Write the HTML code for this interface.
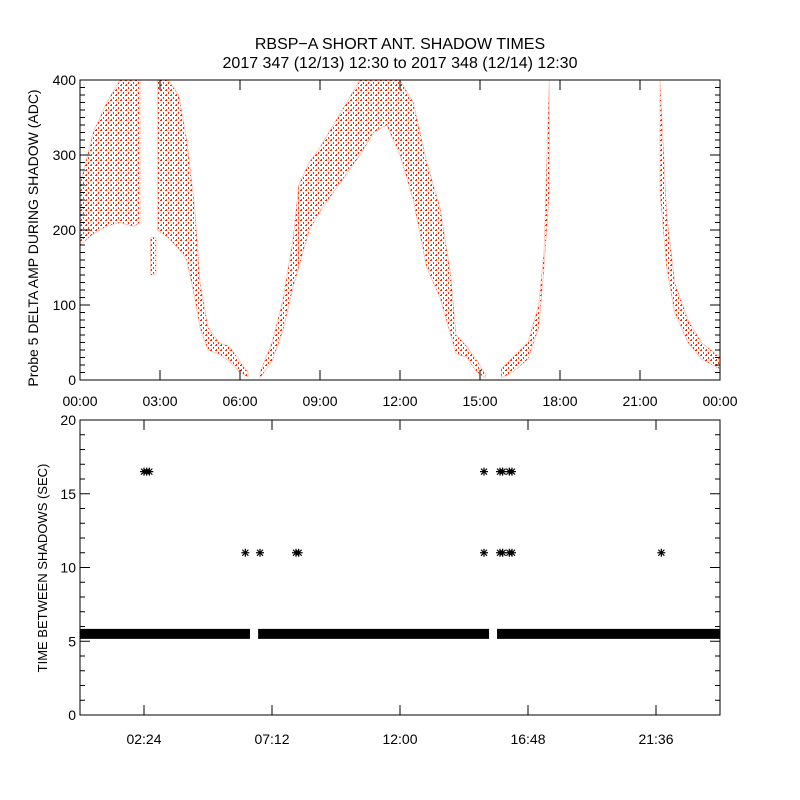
<!DOCTYPE html>
<html><head><meta charset="utf-8"><style>
html,body{margin:0;padding:0;background:#fff}
svg{display:block;font-family:"Liberation Sans",sans-serif}
</style></head><body>
<svg id="c" width="800" height="800" viewBox="0 0 800 800">
<defs>
<pattern id="dots" width="5" height="5" patternUnits="userSpaceOnUse"><rect x="0" y="0" width="2" height="1" fill="#ff2a00"/><rect x="3" y="2" width="1" height="2" fill="#ff2a00"/><rect x="1" y="4" width="1" height="1" fill="#ff2a00"/></pattern>
</defs>
<text x="400" y="49" text-anchor="middle" font-size="16">RBSP−A SHORT ANT. SHADOW TIMES</text>
<text x="400" y="68" text-anchor="middle" font-size="16">2017 347 (12/13) 12:30 to 2017 348 (12/14) 12:30</text>
<g id="topPanel"></g>
<g id="botPanel"></g>
</svg>
<script>
// Top panel data: envelope bands (hours, low ADC, high ADC)
const band1T=[0,0.5,1,1.5,2,2.25], band1Lo=[180,195,205,210,205,210], band1Hi=[260,330,370,400,400,400];
const band2T=[2.65,2.85], band2Lo=[140,140], band2Hi=[190,190];
const band3T=[2.9,3.3,3.7,4.0,4.3,4.5,4.8,5.2,5.6,6.0,6.3], band3Lo=[200,190,175,160,110,70,40,35,25,10,4], band3Hi=[400,400,380,320,230,130,70,50,45,25,10];
const band4T=[6.75,7.2,7.6,8.0,8.2], band4Lo=[3,25,65,125,150], band4Hi=[10,50,105,190,260];
const band5T=[8.2,8.6,9.0,9.5,10.0,10.5,11.0,11.5,12.0,12.5,13.0,13.5,13.9,14.1,14.5,14.9,15.2], band5Lo=[150,200,225,250,275,300,330,340,300,240,150,110,60,35,30,10,3], band5Hi=[260,290,310,340,370,400,400,400,400,370,290,230,140,60,45,25,8];
const band6T=[15.8,16.2,16.8,17.2,17.4,17.6], band6Lo=[3,10,28,70,150,250], band6Hi=[15,30,50,100,170,400];
const band7T=[21.75,22.0,22.3,22.8,23.3,24], band7Lo=[250,150,90,50,28,15], band7Hi=[400,220,130,80,50,30];
const topYTicks=[0,100,200,300,400];
const topXLabels=["00:00","03:00","06:00","09:00","12:00","15:00","18:00","21:00","00:00"];
// Bottom panel data
const baseValue=5.5;
const baseStart=[0,6.68,15.64], baseEnd=[6.375,15.34,24];
const ptT=[2.4,2.5,2.6,6.2,6.75,8.1,8.2,15.15,15.15,15.75,15.85,16.1,16.2,15.75,15.85,16.1,16.2,21.8];
const ptV=[16.5,16.5,16.5,11,11,11,11,16.5,11,16.5,16.5,16.5,16.5,11,11,11,11,11];
const botYTicks=[0,5,10,15,20];
const botXTicks=[2.4,7.2,12,16.8,21.6], botXLabels=["02:24","07:12","12:00","16:48","21:36"];

const NS="http://www.w3.org/2000/svg";
function mk(p,tag,a){const e=document.createElementNS(NS,tag);for(const k in a)e.setAttribute(k,a[k]);p.appendChild(e);return e;}
const L=80,R=720;
const xs=t=>L+(R-L)*t/24;
const ty0=380,ty1=80, yT=v=>ty0+(ty1-ty0)*v/400;
const by0=715,by1=420, yB=v=>by0+(by1-by0)*v/20;
const topG=document.getElementById('topPanel'), botG=document.getElementById('botPanel');

const bands=[[band1T,band1Lo,band1Hi],[band2T,band2Lo,band2Hi],[band3T,band3Lo,band3Hi],[band4T,band4Lo,band4Hi],[band5T,band5Lo,band5Hi],[band6T,band6Lo,band6Hi],[band7T,band7Lo,band7Hi]];
bands.forEach((b,i)=>{
  const [T,Lo,Hi]=b;let d="";
  T.forEach((t,j)=>{d+=(j?"L":"M")+xs(t).toFixed(1)+","+yT(Hi[j]).toFixed(1);});
  for(let j=T.length-1;j>=0;j--)d+="L"+xs(T[j]).toFixed(1)+","+yT(Lo[j]).toFixed(1);
  d+="Z";
  const p=mk(topG,'path',{d:d,fill:'url(#dots)',stroke:'#ff2a00','stroke-width':'0.8','stroke-opacity':'0.3'});
  
  
});
function frame(g,y0,y1,name){
  const r=mk(g,'rect',{x:L,y:y1,width:R-L,height:y0-y1,fill:'none',stroke:'#000','stroke-width':1});
  
  
}
frame(topG,ty0,ty1,'top-plot-frame');
for(let v=0;v<=400;v+=10){const big=v%100===0;const y=yT(v);
  mk(topG,'line',{x1:L,x2:L+(big?10:5),y1:y,y2:y,stroke:'#000'});mk(topG,'line',{x1:R,x2:R-(big?10:5),y1:y,y2:y,stroke:'#000'});}
topYTicks.forEach(v=>{const t=mk(topG,'text',{x:L-4,y:yT(v)+5,'text-anchor':'end','font-size':14});t.textContent=v;
  });
topXLabels.forEach((s,i)=>{const x=xs(i*3);
  mk(topG,'line',{x1:x,x2:x,y1:ty0,y2:ty0-10,stroke:'#000'});mk(topG,'line',{x1:x,x2:x,y1:ty1,y2:ty1+10,stroke:'#000'});
  const t=mk(topG,'text',{x:x,y:406,'text-anchor':'middle','font-size':14});t.textContent=s;
  });
const yt=mk(topG,'text',{transform:'translate(38,238) rotate(-90)','text-anchor':'middle','font-size':14});
yt.textContent='Probe 5 DELTA AMP DURING SHADOW (ADC)';


baseStart.forEach((s,i)=>{
  const r=mk(botG,'rect',{x:xs(s),y:yB(baseValue)-5,width:xs(baseEnd[i])-xs(s),height:10,fill:'#000'});
  
  
});
ptT.forEach((t,i)=>{
  const x=xs(t),y=yB(ptV[i]);const g=mk(botG,'g',{stroke:'#000','stroke-width':1.2});
  
  
  mk(g,'line',{x1:x-4,x2:x+4,y1:y,y2:y});mk(g,'line',{x1:x,x2:x,y1:y-4,y2:y+4});
  mk(g,'line',{x1:x-3,x2:x+3,y1:y-3,y2:y+3});mk(g,'line',{x1:x-3,x2:x+3,y1:y+3,y2:y-3});
});
frame(botG,by0,by1,'bottom-plot-frame');
for(let v=0;v<=20;v+=1){const big=v%5===0;const y=yB(v);
  mk(botG,'line',{x1:L,x2:L+(big?10:5),y1:y,y2:y,stroke:'#000'});mk(botG,'line',{x1:R,x2:R-(big?10:5),y1:y,y2:y,stroke:'#000'});}
botYTicks.forEach(v=>{const t=mk(botG,'text',{x:L-4,y:yB(v)+5,'text-anchor':'end','font-size':14});t.textContent=v;
  });
botXTicks.forEach((h,i)=>{const x=xs(h);
  mk(botG,'line',{x1:x,x2:x,y1:by0,y2:by0-10,stroke:'#000'});mk(botG,'line',{x1:x,x2:x,y1:by1,y2:by1+10,stroke:'#000'});
  const t=mk(botG,'text',{x:x,y:744,'text-anchor':'middle','font-size':14});t.textContent=botXLabels[i];
  });
const yb=mk(botG,'text',{transform:'translate(47,568) rotate(-90)','text-anchor':'middle','font-size':13});
yb.textContent='TIME BETWEEN SHADOWS (SEC)';

</script>
</body></html>
